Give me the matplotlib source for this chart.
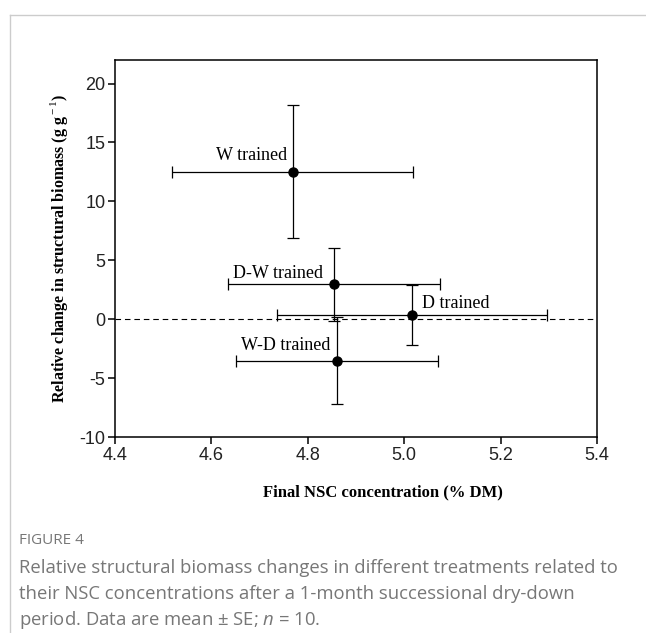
# Relative structural biomass change vs final NSC concentration (Figure 4)
import matplotlib
matplotlib.use("Agg")
import matplotlib.pyplot as plt
from matplotlib.lines import Line2D

# === DATA: means and SE ===
treatments = ["W trained", "D-W trained", "D trained", "W-D trained"]
nsc_mean = [4.769, 4.854, 5.016, 4.861]
nsc_se = [0.25, 0.22, 0.28, 0.21]
biomass_mean = [12.5, 2.95, 0.34, -3.54]
biomass_se = [5.65, 3.1, 2.57, 3.7]

x_ticks = [4.4, 4.6, 4.8, 5.0, 5.2, 5.4]
y_ticks = [-10, -5, 0, 5, 10, 15, 20]

# label anchor for each treatment (x, y, horizontal alignment)
label_pos = [(4.757, 13.9, "right"), (4.831, 3.9, "right"),
             (5.037, 1.35, "left"), (4.846, -2.27, "right")]

plt.rcParams["mathtext.fontset"] = "custom"
plt.rcParams["mathtext.rm"] = "Liberation Serif"
plt.rcParams["mathtext.it"] = "Open Sans:italic"
plt.rcParams["axes.unicode_minus"] = False

fig = plt.figure(figsize=(6.46, 6.33), dpi=100)
ax = fig.add_axes([115 / 646, 1 - 437 / 633, 482 / 646, 377 / 633])

# dashed zero line
ax.axhline(0, color="black", lw=0.8, ls=(0, (5, 3.5)), zorder=1)

ax.errorbar(nsc_mean, biomass_mean, xerr=nsc_se, yerr=biomass_se,
            fmt="o", color="black", ms=6.5, elinewidth=0.9,
            capsize=4.5, capthick=0.9, zorder=3)

for name, (lx, ly, ha) in zip(treatments, label_pos):
    ax.text(lx, ly, name, ha=ha, va="center", fontsize=13,
            family="Liberation Serif")

ax.set_xlim(4.4, 5.4)
ax.set_ylim(-10, 22)
ax.set_xticks(x_ticks)
ax.set_xticklabels([f"{t:.1f}" for t in x_ticks])
ax.set_yticks(y_ticks)
for lbl in ax.get_xticklabels() + ax.get_yticklabels():
    lbl.set_family("Liberation Sans")
    lbl.set_fontsize(13)
    lbl.set_color("#222222")
ax.tick_params(direction="out", length=5, width=1.1, pad=2)
for s in ax.spines.values():
    s.set_linewidth(1.1)

ax.set_xlabel("Final NSC concentration (% DM)", family="Liberation Serif",
              fontweight="bold", fontsize=12)
ax.xaxis.set_label_coords(0.556, -0.126)
ax.set_ylabel(r"Relative change in structural biomass (g g$^{\rm -1}$)",
              family="Liberation Serif", fontweight="bold", fontsize=11.5)
ax.yaxis.set_label_coords(-0.094, 0.5)

# light frame lines of the article page
fig.add_artist(Line2D([10 / 646, 1], [1 - 15 / 633] * 2,
                      transform=fig.transFigure, color="#cccccc", lw=1))
fig.add_artist(Line2D([10 / 646] * 2, [0, 1 - 15 / 633],
                      transform=fig.transFigure, color="#cccccc", lw=1))

# caption
cap_color = "#777777"
fig.text(19 / 646, 1 - 541 / 633, "FIGURE 4", fontsize=11,
         family="Open Sans", color=cap_color, va="center")
caption = [
    "Relative structural biomass changes in different treatments related to",
    "their NSC concentrations after a 1-month successional dry-down",
    "period. Data are mean \u00b1 SE; $n$ = 10.",
]
for i, line in enumerate(caption):
    fig.text(19 / 646, 1 - (568 + 26 * i) / 633, line, fontsize=13.3,
             family="Open Sans", color=cap_color, va="center")

fig.savefig("out.png", dpi=100)
